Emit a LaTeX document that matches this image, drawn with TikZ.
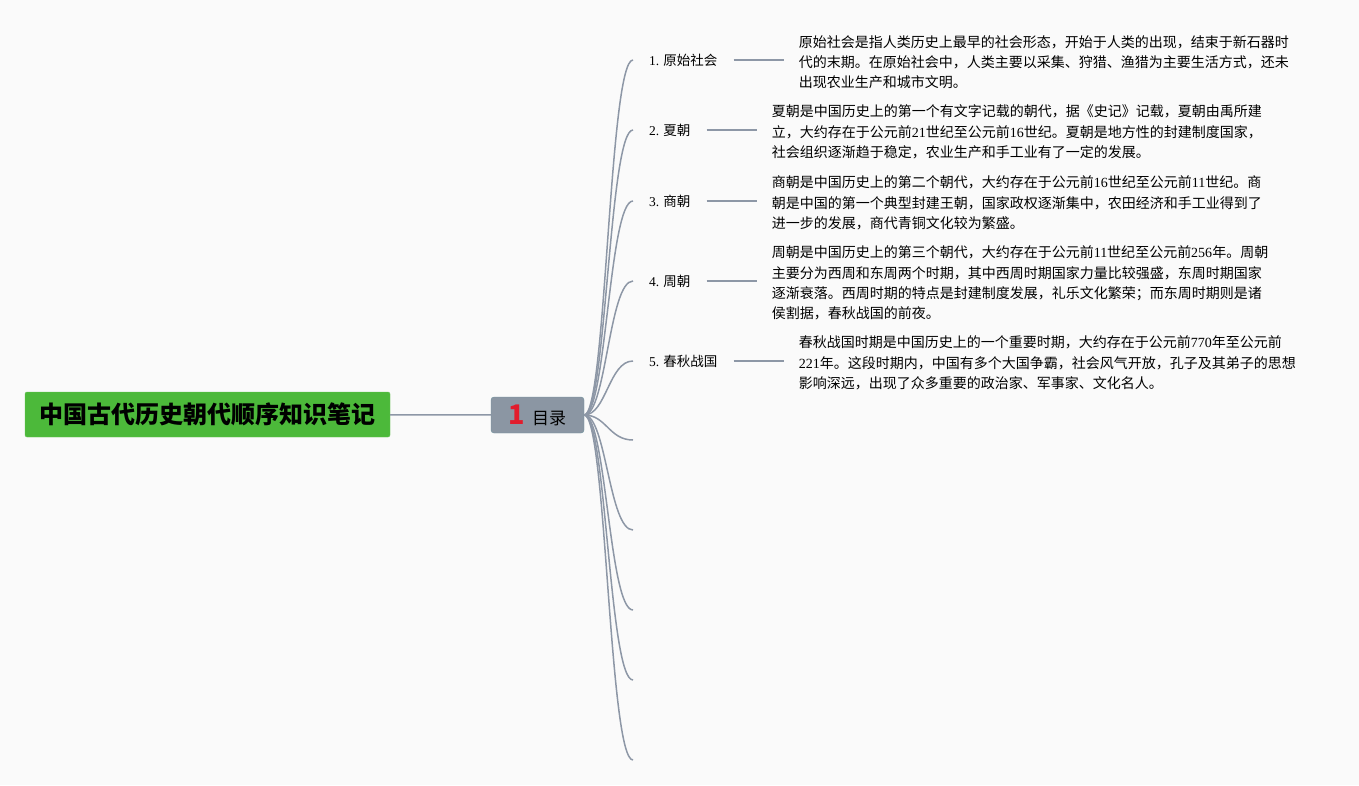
\documentclass[tikz,border=0pt]{standalone}
\usepackage{fontspec}
\setmainfont{Noto Sans CJK SC}
\newfontfamily\latin{Liberation Serif}
\usetikzlibrary{positioning}

\definecolor{bgcol}{RGB}{250,250,250}
\definecolor{rootgreen}{RGB}{76,185,58}
\definecolor{tocgray}{RGB}{139,150,163}
\definecolor{linkgray}{RGB}{141,151,166}
\definecolor{numred}{RGB}{226,28,44}
\newcommand{\nr}[1]{{\latin #1}}

\tikzset{
  root/.style={fill=rootgreen, draw=rootgreen!85!white, rounded corners=2pt,
    minimum width=365pt, minimum height=45pt, inner sep=0pt,
    font=\fontsize{24}{28}\selectfont\bfseries},
  toc/.style={fill=tocgray, draw=tocgray!80!teal, rounded corners=3pt,
    minimum width=93pt, minimum height=36pt, inner sep=0pt},
  topic/.style={anchor=west, inner xsep=16pt, inner ysep=2pt,
    font=\fontsize{13.5}{16}\selectfont},
  desc/.style={right=50pt of #1, inner xsep=15pt, align=left, yshift=-2pt,
    font=\fontsize{14}{20.2}\selectfont},
  link/.style={draw=linkgray, line width=1.5pt},
}

\begin{document}
\begin{tikzpicture}[x=1pt, y=-1pt]
    % Canvas
    \fill[bgcol] (0,0) rectangle (1359,785);
    \useasboundingbox (0,0) rectangle (1359,785);

    % Root and contents node
    \node[root] (root) at (207.5,414.5) {中国古代历史朝代顺序知识笔记};
    \node[toc] (toc) at (537.5,415) {{\fontsize{27}{27}\selectfont\bfseries\color{numred}1}\hspace{7pt}{\fontsize{17}{20}\selectfont 目录}};
    \draw[link] (root) -- (toc);

    % Topics
    \node[topic] (t1) at (633,60) {\nr{1.} 原始社会};
    \node[topic] (t2) at (633,130) {\nr{2.} 夏朝};
    \node[topic] (t3) at (633,201) {\nr{3.} 商朝};
    \node[topic] (t4) at (633,281) {\nr{4.} 周朝};
    \node[topic] (t5) at (633,361) {\nr{5.} 春秋战国};
    \foreach \i/\y in {6/440,7/530,8/610,9/680,10/760}
        \coordinate (e\i) at (633,\y);

    % Descriptions
    \node[desc=t1] (d1) {原始社会是指人类历史上最早的社会形态，开始于人类的出现，结束于新石器时\\
        代的末期。在原始社会中，人类主要以采集、狩猎、渔猎为主要生活方式，还未\\
        出现农业生产和城市文明。};
    \node[desc=t2] (d2) {夏朝是中国历史上的第一个有文字记载的朝代，据《史记》记载，夏朝由禹所建\\
        立，大约存在于公元前\nr{21}世纪至公元前\nr{16}世纪。夏朝是地方性的封建制度国家，\\
        社会组织逐渐趋于稳定，农业生产和手工业有了一定的发展。};
    \node[desc=t3] (d3) {商朝是中国历史上的第二个朝代，大约存在于公元前\nr{16}世纪至公元前\nr{11}世纪。商\\
        朝是中国的第一个典型封建王朝，国家政权逐渐集中，农田经济和手工业得到了\\
        进一步的发展，商代青铜文化较为繁盛。};
    \node[desc=t4] (d4) {周朝是中国历史上的第三个朝代，大约存在于公元前\nr{11}世纪至公元前\nr{256}年。周朝\\
        主要分为西周和东周两个时期，其中西周时期国家力量比较强盛，东周时期国家\\
        逐渐衰落。西周时期的特点是封建制度发展，礼乐文化繁荣；而东周时期则是诸\\
        侯割据，春秋战国的前夜。};
    \node[desc=t5] (d5) {春秋战国时期是中国历史上的一个重要时期，大约存在于公元前\nr{770}年至公元前\\
        \nr{221}年。这段时期内，中国有多个大国争霸，社会风气开放，孔子及其弟子的思想\\
        影响深远，出现了众多重要的政治家、军事家、文化名人。};

    % Branches
    \foreach \n in {t1,t2,t3,t4,t5,e6,e7,e8,e9,e10}
        \draw[link] (toc.east) .. controls +(22,0) and +(-24,0) .. (\n.west);
    \foreach \i in {1,...,5}
        \draw[link] (t\i.east) -- (d\i.west |- t\i.east);
\end{tikzpicture}
\end{document}
